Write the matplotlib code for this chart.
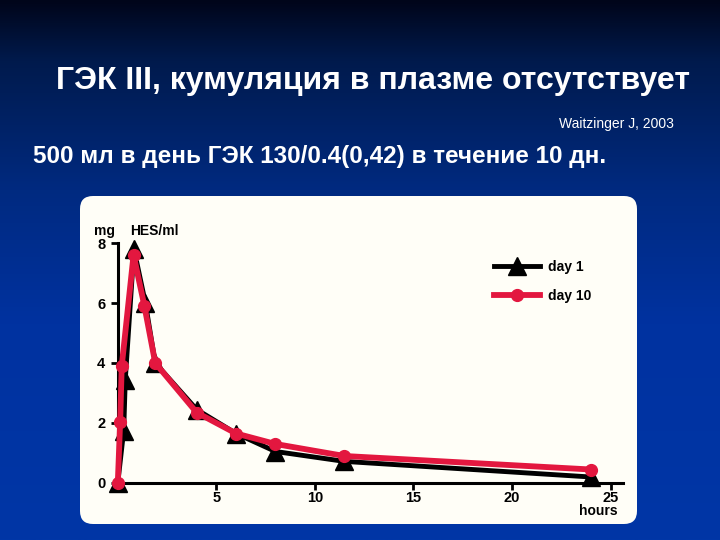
import numpy as np
import matplotlib
matplotlib.use("Agg")
import matplotlib.pyplot as plt
from matplotlib.patches import FancyBboxPatch
from matplotlib.colors import LinearSegmentedColormap

plt.rcParams['font.family'] = ['Liberation Sans', 'DejaVu Sans']

# ---- data ----
title = "ГЭК III, кумуляция в плазме отсутствует"
source = "Waitzinger J, 2003"
subtitle = "500 мл в день ГЭК 130/0.4(0,42) в течение 10 дн."

hours_day1 = [0, 0.3, 0.38, 0.82, 1.4, 1.9, 4.0, 6.0, 8.0, 11.5, 24.0]
conc_day1 = [0, 1.75, 3.45, 7.8, 6.0, 4.0, 2.45, 1.65, 1.05, 0.72, 0.2]
hours_day10 = [0, 0.12, 0.2, 0.8, 1.35, 1.9, 4.0, 6.0, 8.0, 11.5, 24.0]
conc_day10 = [0, 2.05, 3.9, 7.6, 5.9, 4.0, 2.35, 1.65, 1.3, 0.9, 0.45]

xticks = [5, 10, 15, 20, 25]
yticks = [0, 2, 4, 6, 8]
label_day1 = "day 1"
label_day10 = "day 10"

RED = '#e3173f'

fig = plt.figure(figsize=(7.2, 5.4), dpi=100)

# background gradient
bg = fig.add_axes([0, 0, 1, 1])
bg.set_axis_off()
cmap = LinearSegmentedColormap.from_list('bgc', [(0, '#00051a'), (0.11, '#001a4c'),
                                                 (0.35, '#002a80'), (0.6, '#0032a0'),
                                                 (1.0, '#0036a6')])
grad = np.linspace(0, 1, 256).reshape(-1, 1)
bg.imshow(grad, aspect='auto', cmap=cmap, extent=[0, 1, 0, 1], origin='upper')
bg.set_xlim(0, 1)
bg.set_ylim(0, 1)

# white panel
panel = FancyBboxPatch((80 / 720, 1 - 524 / 540), (637 - 80) / 720, (524 - 196) / 540,
                       boxstyle="round,pad=0,rounding_size=0.018",
                       transform=bg.transAxes, facecolor='#fffef7', edgecolor='none',
                       mutation_aspect=720 / 540)
bg.add_patch(panel)

# texts
fig.text(373 / 720, 1 - 81 / 540, title, color='white', fontsize=23, fontweight='bold',
         ha='center', va='center')
fig.text(674 / 720, 1 - 124 / 540, source, color='white', fontsize=10,
         ha='right', va='center')
fig.text(33 / 720, 1 - 157 / 540, subtitle, color='white', fontsize=17.5, fontweight='bold',
         ha='left', va='center')

# chart axes
ax = fig.add_axes([117.8 / 720, 1 - 483 / 540, (623 - 117.8) / 720, 240 / 540])
ax.patch.set_alpha(0)
ax.set_xlim(0, 25.63)
ax.set_ylim(0, 8)

ax.plot(hours_day1, conc_day1, color='black', lw=3.5, marker='^', markersize=13,
        clip_on=False, zorder=3, label=label_day1)
ax.plot(hours_day10, conc_day10, color=RED, lw=4.2, marker='o', markersize=8.5,
        clip_on=False, zorder=4, label=label_day10)

for s in ['top', 'right']:
    ax.spines[s].set_visible(False)
for s in ['left', 'bottom']:
    ax.spines[s].set_linewidth(2.2)
    ax.spines[s].set_color('black')
ax.set_xticks(xticks)
ax.set_yticks(yticks)
ax.tick_params(axis='both', direction='out', length=5, width=2, labelsize=10.5)
ax.tick_params(axis='x', pad=1)
ax.tick_params(axis='y', pad=4)
for lab in ax.get_xticklabels() + ax.get_yticklabels():
    lab.set_fontweight('bold')

ax.text(-0.65, 8.4, "mg", fontsize=10, fontweight='bold', ha='center', va='center')
ax.text(0.6, 8.4, "HES/ml", fontsize=10, fontweight='bold', ha='left', va='center')
ax.text(24.4, -0.93, "hours", fontsize=10, fontweight='bold', ha='center', va='center',
        clip_on=False)

leg = ax.legend(loc='upper left', bbox_to_anchor=(487 / 720, 1 - 253 / 540),
                bbox_transform=fig.transFigure, frameon=False, borderpad=0,
                handlelength=3.3, fontsize=10, labelspacing=1.1, handletextpad=0.6)
for t in leg.get_texts():
    t.set_fontweight('bold')

fig.savefig("out.png", dpi=100)
